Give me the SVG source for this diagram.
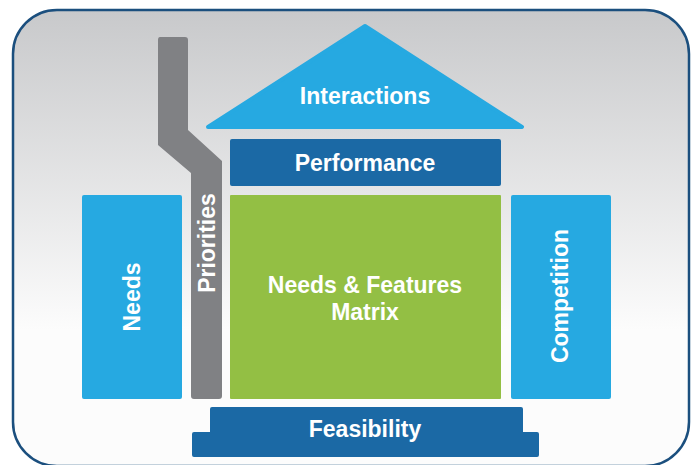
<svg xmlns="http://www.w3.org/2000/svg" width="695" height="465" viewBox="0 0 695 465">
  <defs>
    <linearGradient id="bg" x1="0" y1="10" x2="0" y2="330" gradientUnits="userSpaceOnUse">
      <stop offset="0" stop-color="#c8c9cb"/>
      <stop offset="1" stop-color="#fcfcfc"/>
    </linearGradient>
  </defs>
  <style>
    .lbl { font-family: "Liberation Sans", Arial, Helvetica, sans-serif; font-weight: bold; font-size: 23px; fill: #ffffff; text-anchor: middle; }
    .light { fill: #26a9e1; }
    .dark { fill: #1b69a5; }
    .green { fill: #93bf44; }
    .grey { fill: #808184; }
  </style>

  <!-- frame -->
  <rect x="13" y="10" width="676" height="456" rx="44" ry="44" fill="url(#bg)" stroke="#1b4f7e" stroke-width="2.5"/>

  <!-- roof -->
  <g id="interactions">
    <polygon class="light" points="365,26 522,127 208,127" stroke="#26a9e1" stroke-width="4" stroke-linejoin="round"/>
    <text class="lbl" x="365" y="104">Interactions</text>
  </g>

  <!-- chimney -->
  <g id="priorities">
    <path class="grey" d="M160,37 H185 Q188,37 188,40 V130 L222,161 V396 Q222,399 219,399 H194 Q191,399 191,396 V173 L158,145 V40 Q158,37 160,37 Z"/>
    <text class="lbl" transform="translate(215,243) rotate(-90)">Priorities</text>
  </g>

  <g id="performance">
    <rect class="dark" x="230" y="139" width="271" height="47" rx="2"/>
    <text class="lbl" x="365" y="171">Performance</text>
  </g>

  <g id="needs">
    <rect class="light" x="82" y="195" width="100" height="204" rx="2"/>
    <text class="lbl" transform="translate(140,297) rotate(-90)">Needs</text>
  </g>

  <g id="matrix">
    <rect class="green" x="230" y="195" width="271" height="204" rx="1"/>
    <text class="lbl" x="365" y="293">Needs &amp; Features</text>
    <text class="lbl" x="365" y="320">Matrix</text>
  </g>

  <g id="competition">
    <rect class="light" x="511" y="195" width="100" height="204" rx="2"/>
    <text class="lbl" transform="translate(568,296) rotate(-90)">Competition</text>
  </g>

  <g id="feasibility">
    <path class="dark" d="M212,407 H521 Q523,407 523,409 V432 H537 Q539,432 539,434 V455 Q539,457 537,457 H194 Q192,457 192,455 V434 Q192,432 194,432 H210 V409 Q210,407 212,407 Z"/>
    <text class="lbl" x="365" y="437">Feasibility</text>
  </g>

  <g id="connectors"/>
</svg>
